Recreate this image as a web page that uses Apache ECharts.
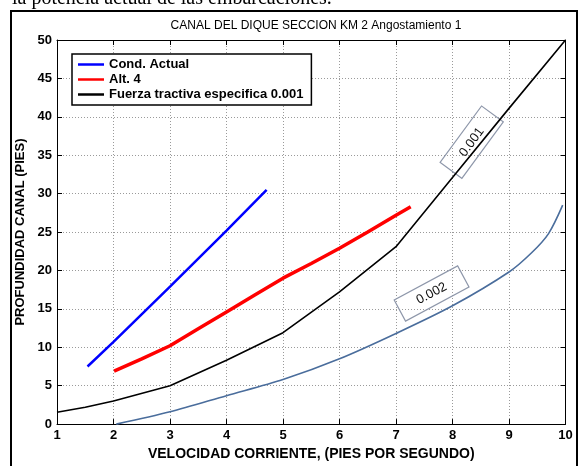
<!DOCTYPE html>
<html>
<head>
<meta charset="utf-8">
<script src="https://cdn.jsdelivr.net/npm/echarts@6/dist/echarts.min.js"></script>
<style>html,body{margin:0;padding:0;background:#fff}#c{width:579px;height:466px}</style>
</head>
<body>
<div id="c"></div>
<script>
// ---- data ----
const xTicks = [1, 2, 3, 4, 5, 6, 7, 8, 9, 10];
const yTicks = [0, 5, 10, 15, 20, 25, 30, 35, 40, 45, 50];
const seriesNames = ['Cond. Actual', 'Alt. 4', 'Fuerza tractiva especifica 0.001'];
const condActual = [[1.54, 7.5], [2.0, 10.7], [3.0, 17.9], [4.0, 25.2], [4.71, 30.5]];
const alt4 = [[2.01, 6.9], [2.5, 8.5], [3.0, 10.2], [3.5, 12.4], [4.0, 14.6], [4.5, 16.8], [5.0, 19.0], [5.5, 20.9], [6.0, 22.9], [6.5, 25.0], [7.0, 27.2], [7.26, 28.3]];
const fuerza001 = [[1.0, 1.55], [1.5, 2.2], [2.0, 3.0], [3.0, 5.0], [4.0, 8.3], [5.0, 11.9], [6.0, 17.2], [7.0, 23.1], [8.0, 32.1], [9.0, 41.1], [10.0, 50.0]];
const fuerza002 = [[2.05, 0.0], [3.0, 1.6], [4.0, 3.7], [5.0, 5.8], [6.0, 8.5], [7.0, 11.8], [8.0, 15.4], [9.0, 19.8], [9.4, 22.3], [9.7, 24.8], [9.95, 28.5]];
const curveLabels = [
  { text: '0.001', at: [8.34, 36.7], angleDeg: 53.7, w: 70, h: 27 },
  { text: '0.002', at: [7.63, 17.0], angleDeg: 28.2, w: 72, h: 24 }
];
const titleText = 'CANAL DEL DIQUE SECCION KM 2 Angostamiento 1';
const xName = 'VELOCIDAD CORRIENTE, (PIES POR SEGUNDO)';
const yName = 'PROFUNDIDAD CANAL (PIES)';
const topText = 'la potencia actual de las embarcaciones.';

const chart = echarts.init(document.getElementById('c'), null, { renderer: 'canvas' });
const font = 'Liberation Sans, Arial, sans-serif';
const gridLine = { show: true, lineStyle: { color: '#9a9a9a', type: [1, 2], width: 1 } };

const baseAxis = {
  axisLine: { show: true, onZero: false, lineStyle: { color: '#000', width: 1 } },
  axisTick: { show: true, inside: true, length: 5, lineStyle: { color: '#000' } }
};

chart.setOption({
  animation: false,
  backgroundColor: '#fff',
  title: {
    text: titleText, left: 311, top: 15, textAlign: 'center',
    textStyle: { fontFamily: font, fontSize: 12, fontWeight: 'normal', color: '#000' }
  },
  legend: {
    data: seriesNames, orient: 'vertical', left: 72, top: 54,
    icon: 'rect', itemWidth: 26, itemHeight: 2.5, itemGap: 2,
    padding: [4, 8, 4, 6],
    borderColor: '#000', borderWidth: 1.5, backgroundColor: '#fff',
    textStyle: { fontFamily: font, fontSize: 13, fontWeight: 'bold', color: '#000', lineHeight: 13 },
    selectedMode: false
  },
  grid: { left: 57, right: 13.5, top: 40, bottom: 32, containLabel: false },
  xAxis: [
    Object.assign({}, baseAxis, {
      type: 'value', min: 1, max: 10, interval: 1, position: 'bottom',
      name: xName, nameLocation: 'middle', nameGap: 19,
      nameTextStyle: { fontFamily: font, fontSize: 14, fontWeight: 'bold', color: '#000' },
      axisLabel: { fontFamily: font, fontSize: 13, fontWeight: 'bold', color: '#000', margin: 5 },
      splitLine: gridLine
    }),
    Object.assign({}, baseAxis, {
      type: 'value', min: 1, max: 10, interval: 1, position: 'top',
      axisLabel: { show: false }, splitLine: { show: false }
    })
  ],
  yAxis: [
    Object.assign({}, baseAxis, {
      type: 'value', min: 0, max: 50, interval: 5, position: 'left',
      name: yName, nameLocation: 'middle', nameGap: 28,
      nameTextStyle: { fontFamily: font, fontSize: 13, fontWeight: 'bold', color: '#000' },
      axisLabel: { fontFamily: font, fontSize: 13, fontWeight: 'bold', color: '#000', margin: 5 },
      splitLine: gridLine
    }),
    Object.assign({}, baseAxis, {
      type: 'value', min: 0, max: 50, interval: 5, position: 'right',
      axisLabel: { show: false }, splitLine: { show: false }
    })
  ],
  series: [
    { name: seriesNames[0], type: 'line', data: condActual, showSymbol: false, symbol: 'none',
      lineStyle: { color: '#0000ff', width: 2.5 }, itemStyle: { color: '#0000ff' } },
    { name: seriesNames[1], type: 'line', data: alt4, showSymbol: false, symbol: 'none',
      lineStyle: { color: '#ff0000', width: 3.5 }, itemStyle: { color: '#ff0000' } },
    { name: seriesNames[2], type: 'line', data: fuerza001, showSymbol: false, symbol: 'none',
      lineStyle: { color: '#000000', width: 1.6 }, itemStyle: { color: '#000000' } },
    { name: '0.002', type: 'line', data: fuerza002, showSymbol: false, symbol: 'none', smooth: 0.3,
      lineStyle: { color: '#4a6d9c', width: 1.6 }, itemStyle: { color: '#4a6d9c' } }
  ]
});

const graphics = [
  { type: 'rect', shape: { x: 11, y: 11, width: 566, height: 470 }, silent: true,
    style: { fill: null, stroke: '#000', lineWidth: 2 }, z: 100 },
  { type: 'text', x: 12, y: 9, silent: true,
    style: { text: topText, fill: '#000', font: '20px "Liberation Serif", "Times New Roman", serif', align: 'left', verticalAlign: 'bottom' } }
];
curveLabels.forEach(function (l) {
  const p = chart.convertToPixel({ gridIndex: 0 }, l.at);
  graphics.push({
    type: 'group', x: p[0], y: p[1], rotation: l.angleDeg * Math.PI / 180, silent: true,
    children: [
      { type: 'rect', shape: { x: -l.w / 2, y: -l.h / 2, width: l.w, height: l.h },
        style: { fill: null, stroke: '#8e97aa', lineWidth: 1.2 } },
      { type: 'text', x: 0, y: 0,
        style: { text: l.text, fill: '#111', font: '13px ' + font, align: 'center', verticalAlign: 'middle' } }
    ]
  });
});
chart.setOption({ graphic: graphics });
</script>
</body>
</html>
